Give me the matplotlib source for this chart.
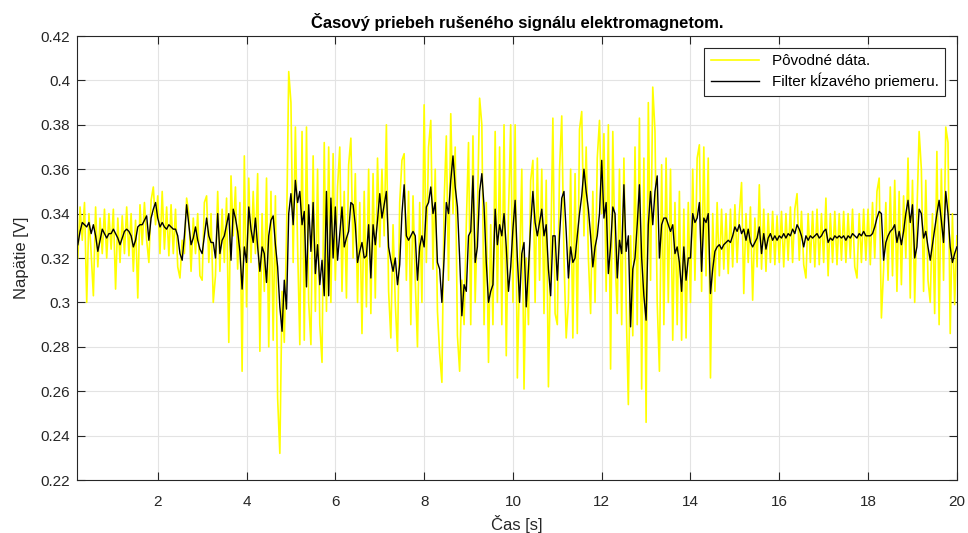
import numpy as np
import matplotlib
matplotlib.use('Agg')
import matplotlib.pyplot as plt

# time axis: samples every 0.05 s from 0.2 s to 20 s
cas = np.linspace(0.2, 20.0, 397)

# original signal [mV] (0.20 .. 20.00 s)
povodne_mv = [
    320, 343, 328, 345, 300, 340, 322, 303, 343, 316, 338, 322, 342, 320, 340, 324,
    342, 306, 338, 318, 339, 322, 343, 321, 340, 314, 337, 302, 344, 326, 345, 328, 318, 346, 352, 335,
    348, 322, 350, 324, 343, 321, 344, 322, 342, 316, 311, 328, 322, 347, 340, 314, 338, 322, 340, 312,
    310, 345, 348, 318, 340, 300, 312, 350, 314, 342, 318, 347, 282, 357, 330, 352, 315, 345, 269, 366,
    298, 356, 318, 350, 322, 358, 278, 340, 305, 356, 280, 350, 283, 348, 257, 232, 305, 282, 330, 404,
    390, 318, 379, 325, 281, 377, 283, 379, 300, 281, 366, 296, 360, 290, 273, 372, 296, 370, 300, 367,
    310, 352, 370, 305, 350, 302, 362, 374, 320, 358, 300, 345, 286, 350, 298, 360, 295, 358, 302, 365,
    325, 360, 330, 380, 305, 284, 335, 300, 278, 345, 364, 367, 310, 350, 290, 348, 310, 280, 345, 300,
    389, 318, 370, 382, 315, 360, 296, 277, 264, 345, 375, 310, 385, 340, 370, 285, 269, 310, 290, 335,
    372, 290, 375, 300, 340, 392, 380, 290, 345, 273, 335, 290, 377, 300, 370, 290, 380, 276, 340, 380,
    300, 380, 266, 315, 360, 261, 320, 290, 355, 364, 300, 365, 310, 360, 295, 355, 262, 320, 383, 295,
    290, 360, 384, 320, 284, 300, 360, 284, 358, 286, 378, 386, 330, 370, 320, 295, 350, 300, 365, 382,
    340, 376, 305, 380, 270, 377, 320, 295, 360, 290, 365, 300, 254, 330, 285, 370, 290, 383, 261, 365,
    246, 390, 310, 397, 377, 300, 269, 362, 290, 365, 300, 360, 283, 345, 290, 350, 283, 342, 284, 345,
    300, 360, 310, 365, 371, 305, 370, 312, 365, 266, 340, 305, 345, 312, 342, 315, 340, 313, 342, 316,
    344, 318, 340, 354, 304, 340, 318, 343, 301, 338, 316, 353, 315, 342, 314, 340, 318, 341, 317, 339,
    318, 341, 316, 340, 319, 343, 318, 342, 349, 319, 341, 317, 311, 340, 318, 341, 316, 342, 317, 340,
    318, 347, 312, 340, 318, 341, 317, 340, 319, 341, 318, 340, 320, 342, 316, 311, 340, 318, 342, 319,
    342, 317, 345, 320, 350, 356, 293, 315, 345, 310, 352, 312, 355, 305, 350, 308, 348, 320, 365, 302,
    355, 300, 340, 377, 360, 305, 355, 310, 300, 340, 295, 368, 290, 360, 310, 379, 372, 286, 340, 299,
    330,
]

# moving average filter [mV]
filter_mv = [
    326, 332, 336, 335, 334, 336, 331, 335, 330, 323, 328, 333, 331, 329, 331, 331,
    333, 331, 329, 326, 329, 332, 333, 332, 330, 325, 328, 334, 335, 335, 337, 339, 328, 338, 342, 345,
    338, 334, 336, 334, 333, 335, 334, 333, 333, 330, 322, 319, 330, 344, 335, 326, 329, 334, 328, 324,
    322, 330, 338, 330, 327, 327, 320, 340, 322, 328, 330, 335, 340, 319, 342, 338, 332, 323, 306, 325,
    318, 343, 333, 327, 338, 325, 314, 325, 322, 309, 330, 337, 339, 326, 316, 298, 287, 310, 297, 340,
    349, 335, 355, 345, 350, 335, 341, 307, 344, 323, 345, 313, 326, 308, 319, 303, 350, 303, 347, 320,
    343, 319, 331, 343, 325, 329, 332, 345, 344, 335, 318, 323, 327, 320, 321, 335, 311, 335, 326, 337,
    349, 338, 344, 350, 325, 319, 314, 320, 308, 317, 340, 353, 330, 328, 330, 332, 330, 310, 325, 330,
    325, 343, 345, 352, 340, 345, 318, 315, 300, 320, 345, 340, 355, 366, 352, 343, 320, 294, 308, 305,
    330, 332, 357, 318, 325, 350, 358, 343, 318, 300, 305, 308, 342, 326, 335, 330, 340, 325, 305, 316,
    333, 346, 320, 300, 322, 327, 298, 315, 335, 350, 336, 330, 336, 342, 330, 335, 315, 303, 330, 330,
    310, 330, 347, 350, 332, 311, 325, 318, 320, 330, 340, 348, 360, 350, 342, 330, 316, 325, 330, 340,
    364, 338, 345, 313, 325, 343, 340, 311, 328, 322, 353, 323, 330, 289, 315, 320, 335, 353, 320, 303,
    292, 335, 350, 335, 350, 357, 320, 335, 338, 338, 335, 332, 335, 322, 325, 318, 305, 325, 310, 320,
    320, 340, 336, 338, 345, 314, 338, 336, 340, 304, 315, 323, 325, 326, 324, 326, 327, 328, 327, 330,
    334, 332, 335, 331, 333, 328, 333, 327, 325, 327, 329, 334, 322, 331, 324, 329, 331, 328, 330, 328,
    330, 329, 331, 329, 331, 330, 333, 331, 335, 333, 330, 325, 330, 328, 330, 329, 330, 331, 329, 330,
    332, 333, 327, 329, 328, 330, 329, 330, 329, 330, 328, 330, 329, 331, 330, 329, 331, 330, 332, 330,
    330, 330, 331, 334, 338, 341, 340, 319, 327, 330, 332, 333, 335, 327, 332, 326, 332, 340, 346, 336,
    344, 320, 325, 342, 340, 329, 332, 325, 319, 326, 333, 340, 346, 337, 327, 350, 340, 325, 318, 322,
    325,
]

x_ticks = [2, 4, 6, 8, 10, 12, 14, 16, 18, 20]
y_ticks = [0.22, 0.24, 0.26, 0.28, 0.3, 0.32, 0.34, 0.36, 0.38, 0.4, 0.42]
y_labels = ['0.22', '0.24', '0.26', '0.28', '0.3', '0.32', '0.34', '0.36', '0.38', '0.4', '0.42']

plt.rcParams['font.family'] = ['Liberation Sans', 'DejaVu Sans']

povodne = np.array(povodne_mv) / 1000.0
filtrovane = np.array(filter_mv) / 1000.0

fig = plt.figure(figsize=(9.68, 5.33), dpi=100)
ax = fig.add_axes([0.0795, 0.0994, 0.9090, 0.8330])

ax.plot(cas, povodne, color='#ffff00', linewidth=1.2, label='Pôvodné dáta.')
ax.plot(cas, filtrovane, color='black', linewidth=1.0, label='Filter kĺzavého priemeru.')

ax.set_xlim(0.18, 20)
ax.set_ylim(0.22, 0.42)
ax.set_xticks(x_ticks)
ax.set_yticks(y_ticks)
ax.set_yticklabels(y_labels)

ax.grid(True, color='#e3e3e3', linewidth=0.8)
ax.set_axisbelow(True)
for s in ax.spines.values():
    s.set_color('#262626')
    s.set_linewidth(0.8)
ax.tick_params(direction='in', length=6, width=0.8, colors='#262626', labelsize=11,
               top=True, right=True)
ax.tick_params(axis='x', pad=11)
ax.tick_params(axis='y', pad=5)

ax.set_title('Časový priebeh rušeného signálu elektromagnetom.', fontsize=12,
             fontweight='bold', pad=6)
ax.set_xlabel('Čas [s]', fontsize=12, color='#262626', labelpad=4)
ax.set_ylabel('Napätie [V]', fontsize=12, color='#262626', labelpad=8)

leg = ax.legend(loc='upper right', fontsize=11, frameon=True, fancybox=False,
                edgecolor='#262626', framealpha=1, handlelength=3.2,
                borderaxespad=0.8, labelspacing=0.3, borderpad=0.4)
leg.get_frame().set_linewidth(0.8)

fig.savefig('out.png', dpi=100)
